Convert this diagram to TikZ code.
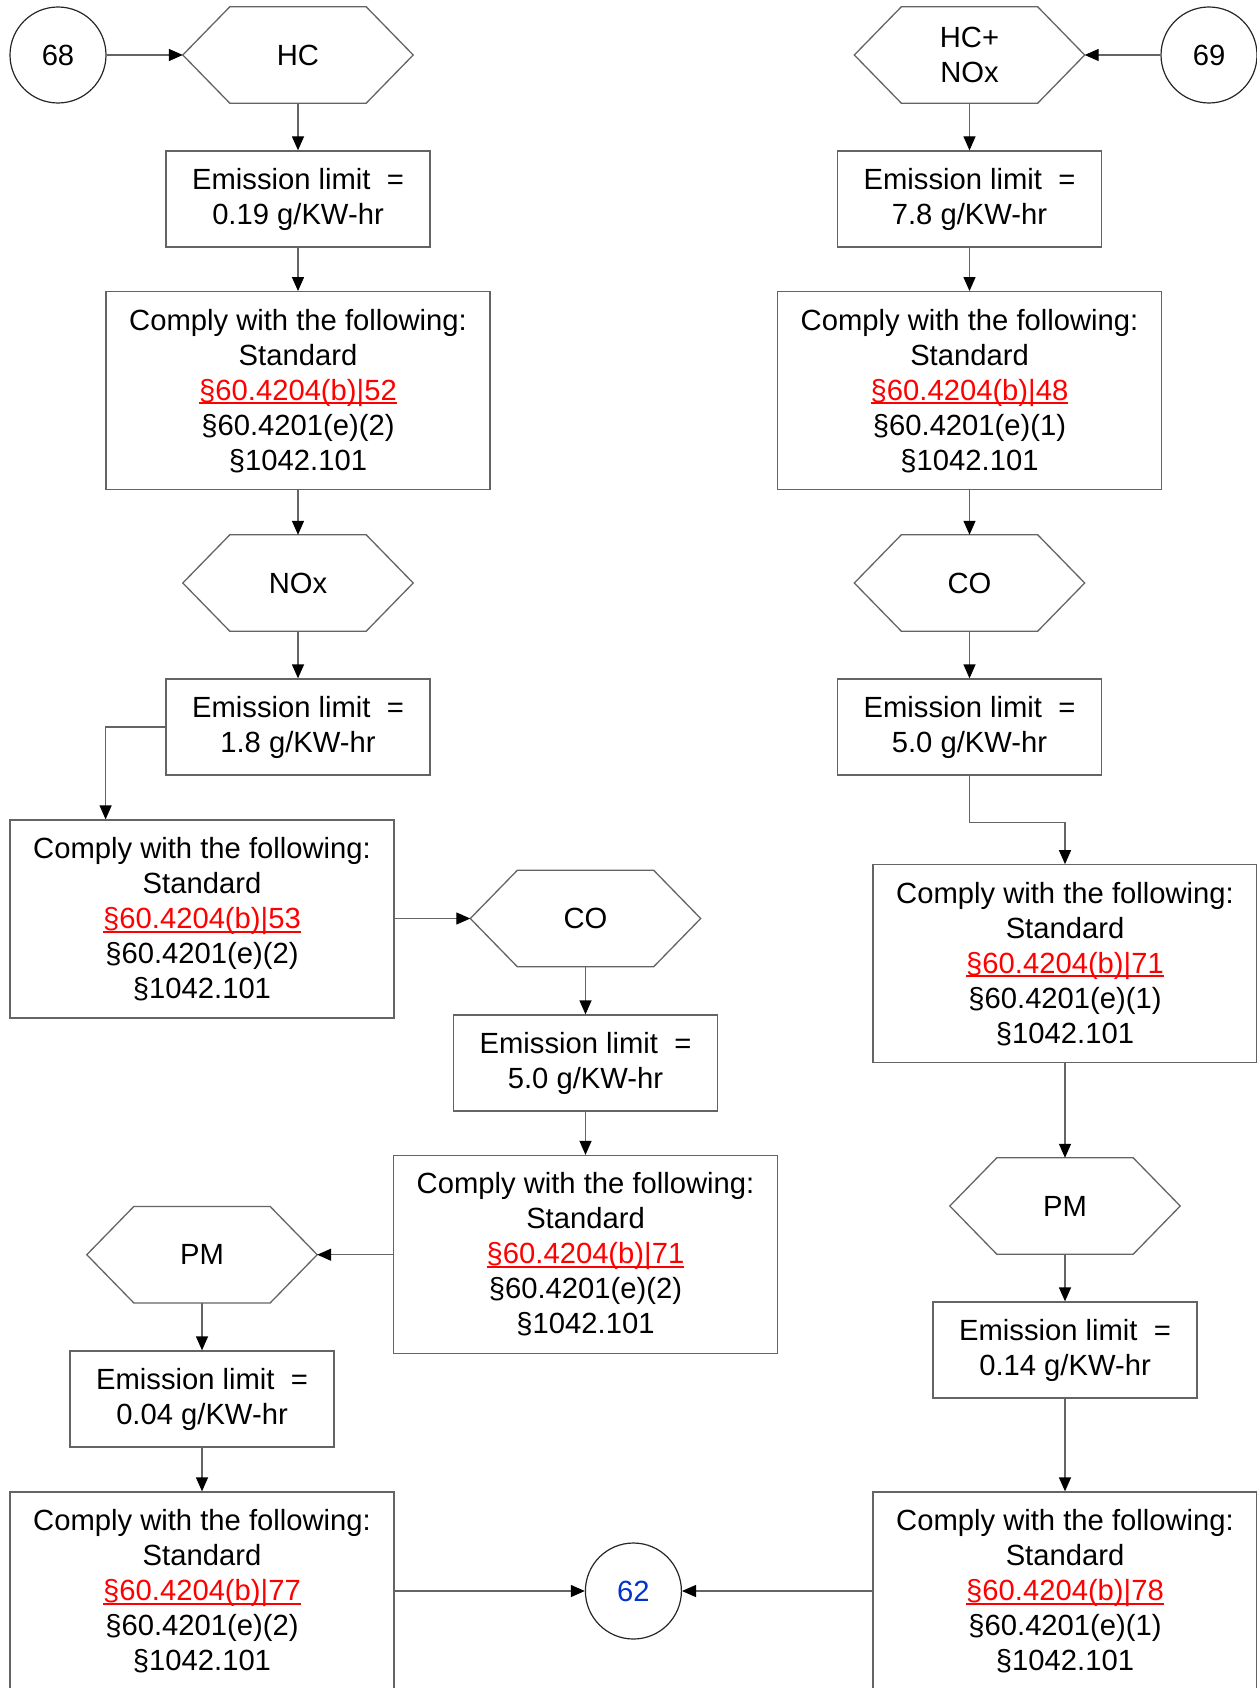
\documentclass[tikz,border=0pt]{standalone}
\usepackage{fontspec}
\setmainfont{Liberation Sans}
\usetikzlibrary{arrows.meta,calc}
\definecolor{linec}{RGB}{100,100,100}
\definecolor{linkred}{RGB}{255,0,0}
\definecolor{refblue}{RGB}{0,51,204}
\newcommand\rlink[1]{\textcolor{linkred}{\setbox0\hbox{#1}\rlap{\vrule height -2.2pt depth 4.2pt width \wd0}\box0}}
\begin{document}
\begin{tikzpicture}[x=1pt,y=-1pt,
  every node/.style={font=\fontsize{29.2}{35}\selectfont, align=center, inner sep=0pt},
  embox/.style={draw=linec, line width=1.3pt, minimum width=264pt, minimum height=96pt},
  cobox/.style={draw=linec, line width=1.3pt, minimum width=384pt, minimum height=198pt},
  hexnode/.style={minimum width=230pt, minimum height=96pt},
  circ/.style={circle, draw=black!85, line width=1.2pt, minimum size=96pt},
  arr/.style={draw=linec, line width=1.3pt, -{Triangle[length=14pt,width=12pt,color=black]}},
  hexline/.style={draw=linec, line width=1.3pt, line join=miter}
]
\useasboundingbox (0,0) rectangle (1257,1688);

% left column
\node[circ] (c68) at (58,55) {68};
\node[hexnode] (hc) at (298,55) {HC};
\node[embox] (e1) at (298,199) {Emission limit~ =\\0.19 g/KW-hr};
\node[cobox] (s1) at (298,390.7) {Comply with the following:\\Standard\\\rlink{§60.4204(b)|52}\\§60.4201(e)(2)\\§1042.101};
\node[hexnode] (nox) at (298,583) {NOx};
\node[embox] (e2) at (298,727) {Emission limit~ =\\1.8 g/KW-hr};
\node[cobox] (s2) at (202,919) {Comply with the following:\\Standard\\\rlink{§60.4204(b)|53}\\§60.4201(e)(2)\\§1042.101};
\node[hexnode] (co1) at (585.5,918.5) {CO};
\node[embox] (e3) at (585.5,1063) {Emission limit~ =\\5.0 g/KW-hr};
\node[cobox] (s3) at (585.5,1254.5) {Comply with the following:\\Standard\\\rlink{§60.4204(b)|71}\\§60.4201(e)(2)\\§1042.101};
\node[hexnode] (pm1) at (202,1254.7) {PM};
\node[embox] (e4) at (202,1399) {Emission limit~ =\\0.04 g/KW-hr};
\node[cobox] (s4) at (202,1591) {Comply with the following:\\Standard\\\rlink{§60.4204(b)|77}\\§60.4201(e)(2)\\§1042.101};
\node[circ, text=refblue] (c62) at (633.4,1591) {62};

% right column
\node[circ] (c69) at (1209,55) {69};
\node[hexnode] (hcnox) at (969.5,55) {HC+\\NOx};
\node[embox] (e5) at (969.5,199) {Emission limit~ =\\7.8 g/KW-hr};
\node[cobox] (s5) at (969.5,390.7) {Comply with the following:\\Standard\\\rlink{§60.4204(b)|48}\\§60.4201(e)(1)\\§1042.101};
\node[hexnode] (co2) at (969.5,583) {CO};
\node[embox] (e6) at (969.5,727) {Emission limit~ =\\5.0 g/KW-hr};
\node[cobox] (s6) at (1065,963.8) {Comply with the following:\\Standard\\\rlink{§60.4204(b)|71}\\§60.4201(e)(1)\\§1042.101};
\node[hexnode] (pm2) at (1065,1206) {PM};
\node[embox] (e7) at (1065,1350) {Emission limit~ =\\0.14 g/KW-hr};
\node[cobox] (s7) at (1065,1591) {Comply with the following:\\Standard\\\rlink{§60.4204(b)|78}\\§60.4201(e)(1)\\§1042.101};

% hexagon outlines
\foreach \n in {hc,nox,co1,pm1,hcnox,co2,pm2}{
  \draw[hexline] (\n.west) -- ([xshift=47pt]\n.north west) -- ([xshift=-47pt]\n.north east)
    -- (\n.east) -- ([xshift=-47pt]\n.south east) -- ([xshift=47pt]\n.south west) -- cycle;
}

\coordinate (k1) at (105.6,727);
\coordinate (k2) at (969.5,822.3);

% connectors left
\draw[arr] (c68) -- (hc.west);
\draw[arr] (hc) -- (e1);
\draw[arr] (e1) -- (s1);
\draw[arr] (s1) -- (nox);
\draw[arr] (nox) -- (e2);
\draw[arr] (e2.west) -- (k1) -- (k1 |- s2.north);
\draw[arr] (s2.east |- co1.west) -- (co1.west);
\draw[arr] (co1) -- (e3);
\draw[arr] (e3) -- (s3);
\draw[arr] (s3.west |- pm1.east) -- (pm1.east);
\draw[arr] (pm1) -- (e4);
\draw[arr] (e4) -- (s4);
\draw[arr] (s4.east) -- (c62.west);
\draw[arr] (s7.west) -- (c62.east);

% connectors right
\draw[arr] (c69) -- (hcnox.east);
\draw[arr] (hcnox) -- (e5);
\draw[arr] (e5) -- (s5);
\draw[arr] (s5) -- (co2);
\draw[arr] (co2) -- (e6);
\draw[arr] (e6.south) -- (k2) -| (s6.north);
\draw[arr] (s6) -- (pm2);
\draw[arr] (pm2) -- (e7);
\draw[arr] (e7) -- (s7);
\end{tikzpicture}
\end{document}
